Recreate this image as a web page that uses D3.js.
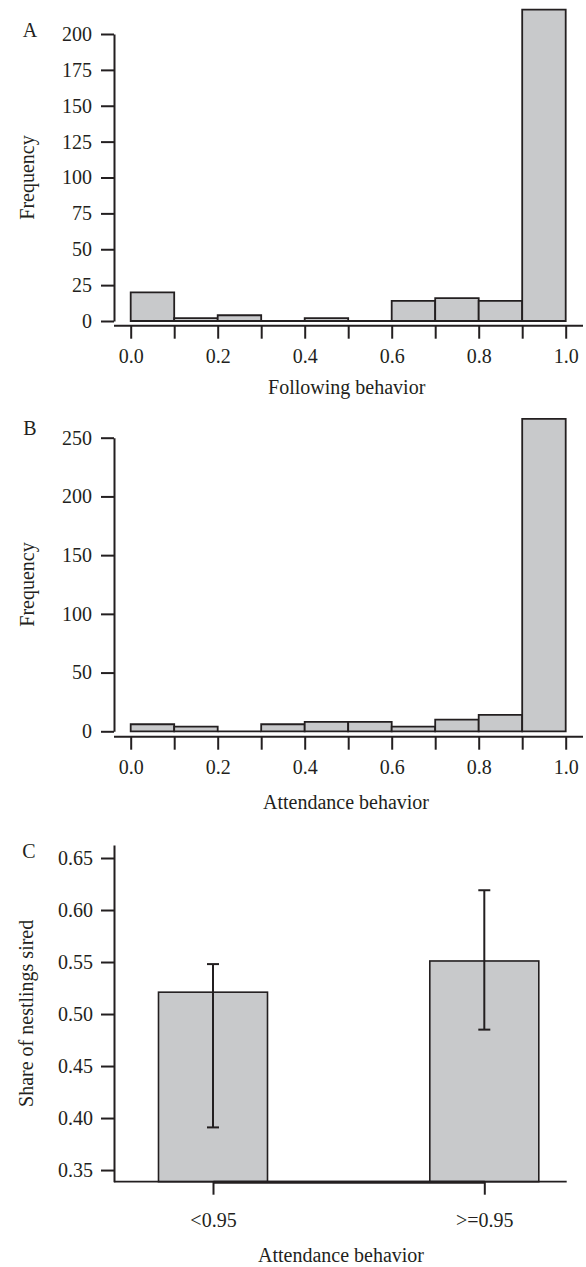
<!DOCTYPE html>
<html>
<head>
<meta charset="utf-8">
<script src="https://cdn.jsdelivr.net/npm/d3@7"></script>
<style>
  html, body { margin: 0; padding: 0; background: #fff; }
  svg { display: block; }
  text { font-family: "Liberation Serif", "Times New Roman", serif; fill: #231f20; }
</style>
</head>
<body>
<script>
// ---------- DATA ----------
const binEdges = [0.0, 0.1, 0.2, 0.3, 0.4, 0.5, 0.6, 0.7, 0.8, 0.9, 1.0];
const followingCounts = [20, 2, 4, 0, 2, 0, 14, 16, 14, 217];
const attendanceCounts = [6, 4, 0, 6, 8, 8, 4, 10, 14, 266];
const histXTicks = [0.0, 0.1, 0.2, 0.3, 0.4, 0.5, 0.6, 0.7, 0.8, 0.9, 1.0];
const histXTickLabels = ["0.0", "", "0.2", "", "0.4", "", "0.6", "", "0.8", "", "1.0"];
const followingYTicks = [0, 25, 50, 75, 100, 125, 150, 175, 200];
const attendanceYTicks = [0, 50, 100, 150, 200, 250];

const groupCategories = ["<0.95", ">=0.95"];
const groupMeans = [0.521, 0.551];
const groupLower = [0.391, 0.485];
const groupUpper = [0.548, 0.619];
const shareYTicks = [0.35, 0.40, 0.45, 0.50, 0.55, 0.60, 0.65];

// ---------- STYLE ----------
const INK = "#231f20";
const FILL = "#c8c9cb";
const FS = 20;

const svg = d3.select("body").append("svg")
  .attr("width", 586).attr("height", 1267);

function styleAxis(g, w) {
  g.selectAll("path.domain").attr("stroke", INK).attr("stroke-width", w);
  g.selectAll(".tick line").attr("stroke", INK).attr("stroke-width", w);
  g.selectAll(".tick text").attr("font-size", FS).attr("fill", INK)
    .attr("font-family", '"Liberation Serif", serif');
}

function histogram(opts) {
  const { counts, yTicks, yMax, yTop, yBottom, xAxisY, letter, letterY, xTitle, xTitleX, xTitleY } = opts;
  const x = d3.scaleLinear().domain([0, 1]).range([130.7, 565.7]);
  const y = d3.scaleLinear().domain([0, yMax]).range([yBottom, yTop]);

  // bars (paths so zero-count bins still show as a line)
  svg.append("g").selectAll("path").data(counts).join("path")
    .attr("d", (c, i) => {
      const x0 = x(binEdges[i]), x1 = x(binEdges[i + 1]);
      const y0 = y(0), y1 = y(c);
      return `M${x0},${y0}V${y1}H${x1}V${y0}Z`;
    })
    .attr("fill", FILL).attr("stroke", INK).attr("stroke-width", 1.8);

  // y axis
  const gy = svg.append("g").attr("transform", "translate(114,0)")
    .call(d3.axisLeft(y).tickValues(yTicks).tickSize(13).tickSizeOuter(0).tickPadding(9));
  styleAxis(gy, 2);

  // x axis
  const gx = svg.append("g").attr("transform", `translate(0,${xAxisY})`)
    .call(d3.axisBottom(x).tickValues(histXTicks).tickSize(13).tickSizeOuter(0).tickPadding(10)
      .tickFormat((d, i) => histXTickLabels[i]));
  gx.select("path.domain").remove();
  styleAxis(gx, 2);
  gx.append("line").attr("x1", 114).attr("x2", 583).attr("y1", 0).attr("y2", 0)
    .attr("stroke", INK).attr("stroke-width", 2);

  // titles
  svg.append("text").attr("x", xTitleX).attr("y", xTitleY).attr("text-anchor", "middle")
    .attr("font-size", FS).text(xTitle);
  svg.append("text").attr("transform", `translate(34,${(yTop + yBottom) / 2}) rotate(-90)`)
    .attr("text-anchor", "middle").attr("font-size", FS).text("Frequency");
  svg.append("text").attr("x", 30).attr("y", letterY).attr("text-anchor", "middle")
    .attr("font-size", FS).text(letter);
}

histogram({
  counts: followingCounts, yTicks: followingYTicks, yMax: 200, yTop: 34, yBottom: 321,
  xAxisY: 325.7, letter: "A", letterY: 37, xTitle: "Following behavior", xTitleX: 346.7, xTitleY: 394
});
histogram({
  counts: attendanceCounts, yTicks: attendanceYTicks, yMax: 250, yTop: 437.7, yBottom: 731.3,
  xAxisY: 736.7, letter: "B", letterY: 435, xTitle: "Attendance behavior", xTitleX: 346, xTitleY: 808.5
});

// ---------- Panel C ----------
(function () {
  const y = d3.scaleLinear().domain([0.3388, 0.6625]).range([1181.7, 845]);
  const x = d3.scalePoint().domain(groupCategories).range([213, 484.3]);
  const bw = 109;
  const data = groupCategories.map((c, i) => ({ c, m: groupMeans[i], lo: groupLower[i], hi: groupUpper[i] }));

  // bars
  svg.append("g").selectAll("rect").data(data).join("rect")
    .attr("x", d => x(d.c) - bw / 2).attr("width", bw)
    .attr("y", d => y(d.m)).attr("height", d => y.range()[0] - y(d.m))
    .attr("fill", FILL).attr("stroke", INK).attr("stroke-width", 1.6);

  // error bars
  const eg = svg.append("g").attr("stroke", INK).attr("stroke-width", 2);
  eg.selectAll("line.v").data(data).join("line").attr("class", "v")
    .attr("x1", d => x(d.c)).attr("x2", d => x(d.c)).attr("y1", d => y(d.hi)).attr("y2", d => y(d.lo));
  eg.selectAll("line.hi").data(data).join("line").attr("class", "hi")
    .attr("x1", d => x(d.c) - 6).attr("x2", d => x(d.c) + 6).attr("y1", d => y(d.hi)).attr("y2", d => y(d.hi));
  eg.selectAll("line.lo").data(data).join("line").attr("class", "lo")
    .attr("x1", d => x(d.c) - 6).attr("x2", d => x(d.c) + 6).attr("y1", d => y(d.lo)).attr("y2", d => y(d.lo));

  // y axis
  const gy = svg.append("g").attr("transform", "translate(114,0)")
    .call(d3.axisLeft(y).tickValues(shareYTicks).tickSize(13).tickSizeOuter(0).tickPadding(8)
      .tickFormat(d3.format(".2f")));
  styleAxis(gy, 2);

  // x axis
  const base = y.range()[0];
  svg.append("line").attr("x1", 114).attr("x2", 566.7).attr("y1", base).attr("y2", base)
    .attr("stroke", INK).attr("stroke-width", 1.8);
  const gx = svg.append("g").attr("transform", `translate(0,${base})`)
    .call(d3.axisBottom(x).tickSize(13).tickSizeOuter(0).tickPadding(18));
  styleAxis(gx, 2);
  gx.select("path.domain").attr("stroke-width", 3);

  svg.append("text").attr("x", 341).attr("y", 1262).attr("text-anchor", "middle")
    .attr("font-size", FS).text("Attendance behavior");
  svg.append("text").attr("transform", `translate(33,${(845 + 1181.7) / 2}) rotate(-90)`)
    .attr("text-anchor", "middle").attr("font-size", FS).text("Share of nestlings sired");
  svg.append("text").attr("x", 29).attr("y", 858).attr("text-anchor", "middle")
    .attr("font-size", FS).text("C");
})();
</script>
</body>
</html>
